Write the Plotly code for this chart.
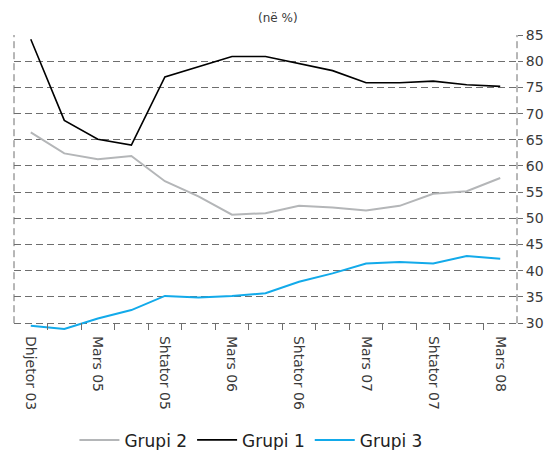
import plotly.graph_objects as go

# Quarterly periods shown on the category axis (every other one is labelled)
periods = ["Dhjetor 03", "Dhjetor 04", "Mars 05", "Qershor 05", "Shtator 05",
           "Dhjetor 05", "Mars 06", "Qershor 06", "Shtator 06", "Dhjetor 06",
           "Mars 07", "Qershor 07", "Shtator 07", "Dhjetor 07", "Mars 08"]
tick_labels = ["Dhjetor 03", "", "Mars 05", "", "Shtator 05", "", "Mars 06", "",
               "Shtator 06", "", "Mars 07", "", "Shtator 07", "", "Mars 08"]

grupi_1 = [84.2, 68.7, 65.1, 64.0, 77.0, 78.9, 80.9, 80.9, 79.5, 78.2,
           75.9, 75.9, 76.2, 75.5, 75.2]
grupi_2 = [66.4, 62.4, 61.3, 61.9, 57.1, 54.2, 50.7, 51.0, 52.4, 52.1,
           51.5, 52.4, 54.7, 55.2, 57.7]
grupi_3 = [29.5, 28.9, 30.9, 32.5, 35.2, 34.9, 35.2, 35.7, 37.9, 39.5,
           41.4, 41.7, 41.4, 42.8, 42.3]

y_ticks = list(range(30, 90, 5))
Y_LOW = 28.7   # a little room under 30 so the line dipping below it stays visible

FONT = "DejaVu Sans"
TEXT = "#3a3a3a"
GRID = "#6e6e6e"
DASH = "7px,4px"

fig = go.Figure()
fig.add_trace(go.Scatter(x=periods, y=grupi_2, name="Grupi 2", mode="lines",
                         line=dict(color="#b4b6b8", width=2)))
fig.add_trace(go.Scatter(x=periods, y=grupi_1, name="Grupi 1", mode="lines",
                         line=dict(color="#000000", width=1.6)))
fig.add_trace(go.Scatter(x=periods, y=grupi_3, name="Grupi 3", mode="lines",
                         line=dict(color="#12aaea", width=2)))

# dashed frame on the left and right sides of the plot area
for xp in (0, 1):
    fig.add_shape(type="line", xref="paper", yref="y", x0=xp, x1=xp, y0=30, y1=85,
                  line=dict(color=GRID, width=1, dash=DASH), layer="below")

fig.add_annotation(text="(në %)", xref="paper", yref="paper", x=0.525, y=1.058,
                   showarrow=False, font=dict(family=FONT, size=12, color=TEXT),
                   xanchor="center", yanchor="middle")

fig.update_layout(
    width=555, height=450,
    margin=dict(l=14, r=38, t=35, b=120, autoexpand=False),
    paper_bgcolor="white", plot_bgcolor="white",
    font=dict(family=FONT, color=TEXT),
    showlegend=True,
    legend=dict(orientation="h", x=0.472, xanchor="center", y=-0.374, yanchor="middle",
                font=dict(family=FONT, size=17, color="#222222"),
                itemwidth=40, tracegroupgap=0),
    xaxis=dict(type="category", categoryorder="array", categoryarray=periods,
               tickvals=periods, ticktext=tick_labels, tickangle=90,
               tickson="boundaries", ticks="inside", ticklen=7, tickcolor=GRID,
               ticklabelstandoff=5,
               showgrid=False, showline=False, zeroline=False,
               range=[-0.5, 14.5],
               tickfont=dict(family=FONT, size=14, color=TEXT)),
    yaxis=dict(side="right", range=[Y_LOW, 85], tickvals=y_ticks,
               showgrid=True, gridcolor=GRID, gridwidth=1, griddash=DASH,
               ticks="outside", ticklen=5, tickcolor=GRID,
               showline=False, zeroline=False,
               tickfont=dict(family=FONT, size=14, color=TEXT)),
)

fig.write_html("out.html")
